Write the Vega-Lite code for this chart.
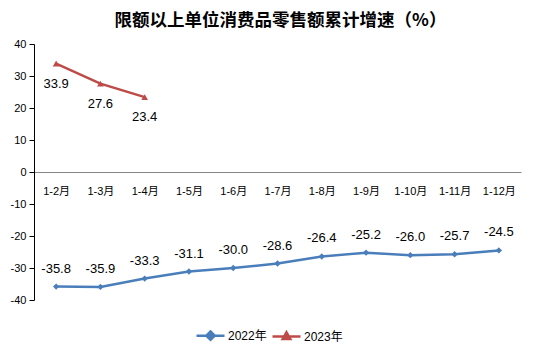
{
  "$schema": "https://vega.github.io/schema/vega-lite/v6.json",
  "autosize": "none",
  "width": 487,
  "height": 256,
  "padding": {"left": 34, "top": 44, "right": 12, "bottom": 56},
  "background": "white",
  "title": {
    "text": "限额以上单位消费品零售额累计增速（%）",
    "font": "Noto Sans CJK SC",
    "fontSize": 17.5,
    "fontWeight": "bold",
    "color": "#000000",
    "anchor": "middle",
    "dx": 3,
    "offset": 9
  },
  "config": {
    "view": {"stroke": null},
    "font": "Liberation Sans, Noto Sans CJK SC",
    "locale": {
      "number": {"decimal": ".", "thousands": ",", "grouping": [3], "currency": ["$", ""], "minus": "-"}
    }
  },
  "data": {
    "values": [
      {"month": "1-2月", "year": "2022年", "value": -35.8},
      {"month": "1-3月", "year": "2022年", "value": -35.9},
      {"month": "1-4月", "year": "2022年", "value": -33.3},
      {"month": "1-5月", "year": "2022年", "value": -31.1},
      {"month": "1-6月", "year": "2022年", "value": -30.0},
      {"month": "1-7月", "year": "2022年", "value": -28.6},
      {"month": "1-8月", "year": "2022年", "value": -26.4},
      {"month": "1-9月", "year": "2022年", "value": -25.2},
      {"month": "1-10月", "year": "2022年", "value": -26.0},
      {"month": "1-11月", "year": "2022年", "value": -25.7},
      {"month": "1-12月", "year": "2022年", "value": -24.5},
      {"month": "1-2月", "year": "2023年", "value": 33.9},
      {"month": "1-3月", "year": "2023年", "value": 27.6},
      {"month": "1-4月", "year": "2023年", "value": 23.4}
    ]
  },
  "encoding": {
    "x": {
      "field": "month",
      "type": "ordinal",
      "sort": null,
      "scale": {"domain": ["1-2月","1-3月","1-4月","1-5月","1-6月","1-7月","1-8月","1-9月","1-10月","1-11月","1-12月"], "paddingInner": 0, "paddingOuter": 0},
      "axis": {
        "title": null,
        "orient": "bottom",
        "offset": -128,
        "labelAngle": 0,
        "ticks": false,
        "domainColor": "#868686",
        "domainWidth": 1,
        "labelFont": "Liberation Sans, Noto Sans CJK SC",
        "labelFontSize": 11,
        "labelColor": "#000000",
        "labelPadding": 13
      }
    },
    "y": {
      "field": "value",
      "type": "quantitative",
      "scale": {"domain": [-40, 40], "nice": false, "zero": false},
      "axis": {
        "title": null,
        "values": [-40,-30,-20,-10,0,10,20,30,40],
        "grid": false,
        "domainColor": "#000000",
        "tickColor": "#000000",
        "tickSize": 5,
        "labelFontSize": 11,
        "labelFont": "Liberation Sans",
        "labelColor": "#000000",
        "labelPadding": 3
      }
    },
    "color": {
      "field": "year",
      "type": "nominal",
      "scale": {"domain": ["2022年", "2023年"], "range": ["#4A7EBB", "#BE4B48"]},
      "legend": {
        "title": null,
        "orient": "none",
        "legendX": 161,
        "legendY": 276,
        "direction": "horizontal",
        "labelFont": "Liberation Sans, Noto Sans CJK SC",
        "labelFontSize": 12,
        "labelColor": "#000000",
        "symbolSize": 784,
        "symbolType": "M-1,0H1M0,-0.3L0.3,0L0,0.3L-0.3,0Z",
        "symbolStrokeWidth": 2.5,
        "columnPadding": 0,
        "labelOffset": 2,
        "encode": {
          "symbols": {
            "update": {
              "shape": {"signal": "datum.value === '2022年' ? 'M-1,0H1M0,-0.3L0.3,0L0,0.3L-0.3,0Z' : 'M-1,0H1M0,-0.3L0.27,0.17L-0.27,0.17Z'"},
              "fill": {"signal": "datum.value === '2022年' ? '#4A7EBB' : '#BE4B48'"},
              "stroke": {"signal": "datum.value === '2022年' ? '#4A7EBB' : '#BE4B48'"},
              "strokeWidth": {"value": 2.5}
            }
          }
        }
      }
    }
  },
  "layer": [
    {
      "mark": {"type": "line", "strokeWidth": 2.5}
    },
    {
      "transform": [{"filter": "datum.year === '2022年'"}],
      "mark": {"type": "point", "filled": true, "opacity": 1, "size": 40, "shape": "diamond"}
    },
    {
      "transform": [{"filter": "datum.year === '2023年'"}],
      "mark": {"type": "point", "filled": true, "opacity": 1, "size": 45, "shape": "triangle-up"}
    },
    {
      "transform": [{"filter": "datum.year === '2022年'"}],
      "mark": {"type": "text", "baseline": "middle", "dy": -18, "fontSize": 13, "font": "Liberation Sans"},
      "encoding": {
        "text": {"field": "value", "type": "quantitative", "format": ".1f"},
        "color": {"value": "#000000"}
      }
    },
    {
      "transform": [{"filter": "datum.year === '2023年'"}],
      "mark": {"type": "text", "baseline": "middle", "dy": 20, "fontSize": 13, "font": "Liberation Sans"},
      "encoding": {
        "text": {"field": "value", "type": "quantitative", "format": ".1f"},
        "color": {"value": "#000000"}
      }
    }
  ]
}
